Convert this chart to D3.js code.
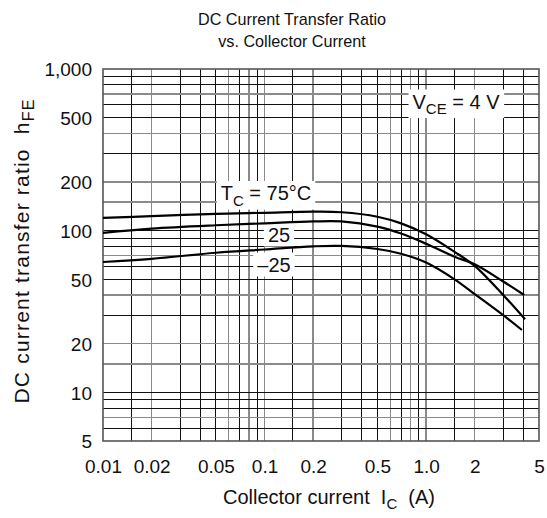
<!DOCTYPE html>
<html><head><meta charset="utf-8">
<script src="https://cdn.jsdelivr.net/npm/d3@7"></script>
<style>
html,body{margin:0;padding:0;background:#fff;}
text{font-family:"Liberation Sans",Arial,Helvetica,sans-serif;fill:#111;white-space:pre;}
</style></head>
<body>
<svg id="chart" width="547" height="518"></svg>
<script>
// ---- data ----
const xTickValues = [0.01, 0.02, 0.05, 0.1, 0.2, 0.5, 1, 2, 5];
const xTickLabels = ["0.01", "0.02", "0.05", "0.1", "0.2", "0.5", "1.0", "2", "5"];
const yTickValues = [5, 10, 20, 50, 100, 200, 500, 1000];
const yTickLabels = ["5", "10", "20", "50", "100", "200", "500", "1,000"];
const xGridValues = [0.015,0.02,0.03,0.04,0.05,0.06,0.07,0.08,0.09,0.1,0.15,0.2,0.3,0.4,0.5,0.6,0.7,0.8,0.9,1,1.5,2,3,4];
const yGridValues = [6,7,8,9,10,15,20,30,40,50,60,70,80,90,100,150,200,300,400,500,600,700,800,900];

const seriesNames = ["75", "25", "-25"];
const current75 = [0.01, 0.02, 0.05, 0.1, 0.2, 0.3, 0.5, 0.7, 1.0, 1.5, 2, 3, 4.1];
const hfe75     = [120, 123, 127, 129, 131, 130, 122, 111, 95, 74, 60.5, 40, 28.3];
const current25 = [0.01, 0.02, 0.05, 0.1, 0.2, 0.3, 0.5, 0.7, 1.0, 1.5, 2, 3, 4.05];
const hfe25     = [97, 103, 108, 111, 114, 114, 106, 96, 83, 69, 62, 48.5, 40];
const currentM25 = [0.01, 0.02, 0.05, 0.1, 0.2, 0.3, 0.5, 0.7, 1.0, 1.5, 2, 3, 3.92];
const hfeM25     = [64, 67, 73, 76.5, 80, 80.5, 77, 72, 63.5, 50, 40.5, 30, 24.3];

const titleLines = ["DC Current Transfer Ratio", "vs. Collector Current"];

// ---- chart ----
const svg = d3.select("#chart");
const L = 103, R = 539, T = 69, B = 441;
const x = d3.scaleLog().domain([0.01, 5]).range([L, R]);
const y = d3.scaleLog().domain([5, 1000]).range([B, T]);

function mant(v){ const e = Math.floor(Math.log10(v) + 1e-9); return Math.round(v / Math.pow(10, e) * 10) / 10; }
const vBlack = {1.5:1, 3:1, 4:1, 5:1, 7:1, 9:1};
const hBlack = {1:1, 3:1, 5:1, 6:1, 8:1, 9:1};

const g = svg.append("g");
g.selectAll("line.vg").data(xGridValues).enter().append("line")
  .attr("x1", d => x(d)).attr("x2", d => x(d)).attr("y1", T).attr("y2", B)
  .attr("stroke", d => vBlack[mant(d)] ? "#111" : "#8a8a8a")
  .attr("stroke-width", d => vBlack[mant(d)] ? 1 : 1.4)
  .attr("shape-rendering", "crispEdges");
g.selectAll("line.hg").data(yGridValues).enter().append("line")
  .attr("y1", d => y(d)).attr("y2", d => y(d)).attr("x1", L).attr("x2", R)
  .attr("stroke", d => hBlack[mant(d)] ? "#111" : "#8a8a8a")
  .attr("stroke-width", d => hBlack[mant(d)] ? 1 : 1.4)
  .attr("shape-rendering", "crispEdges");
g.append("rect").attr("x", L).attr("y", T).attr("width", R - L).attr("height", B - T)
  .attr("fill", "none").attr("stroke", "#555").attr("stroke-width", 1.6);

// label boxes (white behind text)
function boxLabel(cx, baseline, parts, fs){
  const t = svg.append("text").attr("x", cx).attr("y", baseline).attr("text-anchor", "middle")
    .attr("font-size", fs);
  parts.forEach(p => {
    const ts = t.append("tspan").text(p.t);
    if (p.sub) ts.attr("font-size", fs * 0.75).attr("dy", fs * 0.28);
    if (p.after) ts.attr("dy", -fs * 0.28);
  });
  const bb = t.node().getBBox();
  svg.insert("rect", "text").attr("x", bb.x - 4).attr("y", bb.y - 1).attr("width", bb.width + 8)
    .attr("height", bb.height + 2).attr("fill", "#fff");
  return t;
}

// curves
const line = d3.line().x(d => x(d[0])).y(d => y(d[1])).curve(d3.curveCatmullRom.alpha(0.5));
const series = [d3.zip(current75, hfe75), d3.zip(current25, hfe25), d3.zip(currentM25, hfeM25)];

boxLabel(266, 200, [{t:"T"},{t:"C", sub:true},{t:" = 75°C", after:true}], 20);
boxLabel(279, 241.5, [{t:"25"}], 20);
boxLabel(274, 271.5, [{t:"\u201325"}], 20);
boxLabel(456, 108.5, [{t:"V"},{t:"CE", sub:true},{t:" = 4 V", after:true}], 20);

svg.append("g").selectAll("path").data(series).enter().append("path")
  .attr("d", line).attr("fill", "none").attr("stroke", "#000").attr("stroke-width", 2.2);

svg.selectAll("text").raise();

// tick labels
const xAxis = d3.axisBottom(x).tickValues(xTickValues).tickSize(0).tickPadding(0)
  .tickFormat((d, i) => xTickLabels[i]);
const xa = svg.append("g").attr("transform", `translate(0,${B})`).call(xAxis);
xa.select(".domain").remove();
xa.selectAll("text").attr("font-size", 19).attr("dy", null).attr("y", 32)
  .attr("font-family", "Liberation Sans, Arial, sans-serif").attr("fill", "#111");

const yAxis = d3.axisLeft(y).tickValues(yTickValues).tickSize(0).tickPadding(0)
  .tickFormat((d, i) => yTickLabels[i]);
const ya = svg.append("g").attr("transform", `translate(${L},0)`).call(yAxis);
ya.select(".domain").remove();
ya.selectAll("text").attr("font-size", 19).attr("x", -11).attr("dy", "0.36em")
  .attr("font-family", "Liberation Sans, Arial, sans-serif").attr("fill", "#111");

// title
svg.append("text").attr("x", 292).attr("y", 25).attr("text-anchor", "middle").attr("font-size", 16.2).text(titleLines[0]);
svg.append("text").attr("x", 292).attr("y", 47).attr("text-anchor", "middle").attr("font-size", 16.2).text(titleLines[1]);

// x axis title
const xt = svg.append("text").attr("x", 329).attr("y", 504).attr("text-anchor", "middle").attr("font-size", 20);
xt.append("tspan").text("Collector current  I");
xt.append("tspan").text("C").attr("font-size", 15).attr("dy", 5);
xt.append("tspan").text("  (A)").attr("dy", -5);

// y axis title
const yt = svg.append("text").attr("transform", "translate(29,251) rotate(-90)").attr("text-anchor", "middle")
  .attr("font-size", 21).attr("letter-spacing", 1.2);
yt.append("tspan").text("DC current transfer ratio  h");
yt.append("tspan").text("FE").attr("font-size", 16).attr("dy", 5);
</script>
</body></html>
